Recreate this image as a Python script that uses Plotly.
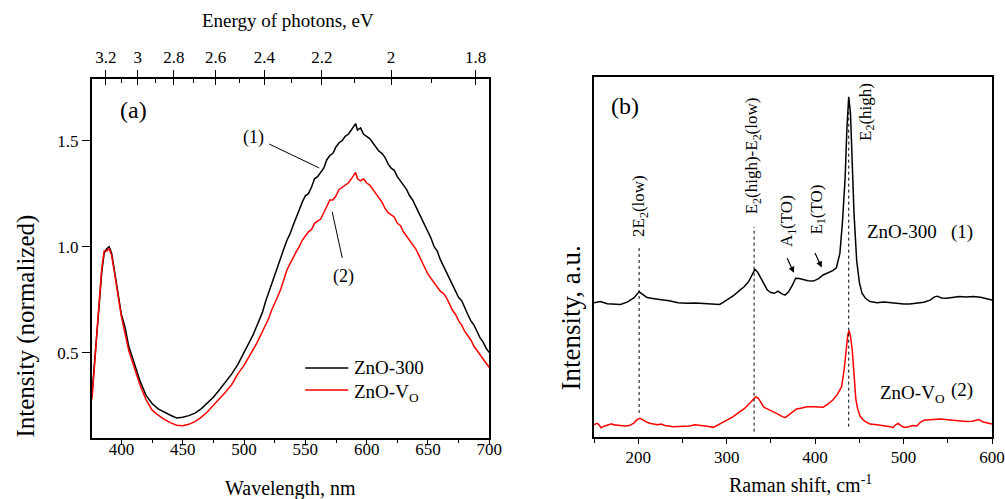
import plotly.graph_objects as go

# ---------------- Panel (a): photoluminescence ----------------
pl_wavelength = [376, 378, 380, 382, 384, 386, 388, 390, 392, 394, 396, 398, 400, 403, 406, 410, 415, 420,
                 425, 430, 435, 440, 445, 450, 455, 460, 465, 470, 475, 480, 485, 490, 495,
                 500, 502.5, 505, 507.5, 510, 512.5, 515, 517.5, 520, 522.5, 525, 527.5, 530, 532.5, 535, 537.5,
                 540, 542.5, 545, 547.5, 550, 552.5, 555, 557.5, 560, 562.5, 565, 567.5, 570, 572.5, 575, 577.5,
                 580, 582.5, 585, 587.5, 590, 591, 592.5, 595, 597.5, 600, 602.5, 605, 607.5, 610, 612.5, 615,
                 617.5, 620, 622.5, 625, 627.5, 630, 632.5, 635, 637.5, 640, 642.5, 645, 647.5, 650, 652.5, 655,
                 657.5, 660, 662.5, 665, 667.5, 670, 672.5, 675, 677.5, 680, 682.5, 685, 687.5, 690, 692.5, 695,
                 697.5, 700]
pl_zno300 = [0.30, 0.45, 0.60, 0.75, 0.88, 0.97, 0.99, 1.00, 0.97, 0.90, 0.82, 0.74, 0.68, 0.62, 0.53, 0.46, 0.37, 0.30,
             0.26, 0.235, 0.218, 0.205, 0.192, 0.195, 0.203, 0.215, 0.235, 0.262, 0.29, 0.325, 0.36, 0.40, 0.445,
             0.50, 0.53, 0.555, 0.585, 0.62, 0.655, 0.69, 0.74, 0.78, 0.83, 0.87, 0.90, 0.95, 0.99, 1.03, 1.06,
             1.10, 1.14, 1.17, 1.21, 1.24, 1.25, 1.28, 1.32, 1.33, 1.35, 1.37, 1.41, 1.43, 1.44, 1.47, 1.49,
             1.50, 1.52, 1.53, 1.55, 1.57, 1.58, 1.55, 1.56, 1.53, 1.52, 1.51, 1.49, 1.47, 1.45, 1.44, 1.42,
             1.39, 1.37, 1.36, 1.33, 1.31, 1.29, 1.27, 1.24, 1.22, 1.19, 1.16, 1.13, 1.10, 1.07, 1.04, 1.00,
             0.98, 0.94, 0.91, 0.88, 0.85, 0.82, 0.79, 0.76, 0.745, 0.71, 0.68, 0.65, 0.63, 0.60, 0.57, 0.55,
             0.52, 0.50]
pl_znovo = [0.28, 0.44, 0.60, 0.76, 0.90, 0.98, 0.98, 0.99, 0.96, 0.89, 0.81, 0.73, 0.67, 0.59, 0.51, 0.44, 0.35, 0.28,
            0.23, 0.205, 0.185, 0.17, 0.158, 0.155, 0.162, 0.175, 0.195, 0.22, 0.25, 0.28, 0.315, 0.35, 0.40,
            0.44, 0.465, 0.49, 0.51, 0.54, 0.57, 0.60, 0.63, 0.66, 0.70, 0.73, 0.765, 0.80, 0.85, 0.89, 0.92,
            0.95, 0.975, 1.00, 1.03, 1.05, 1.07, 1.08, 1.11, 1.12, 1.13, 1.16, 1.19, 1.22, 1.22, 1.24, 1.27,
            1.28, 1.29, 1.30, 1.32, 1.34, 1.35, 1.32, 1.31, 1.32, 1.30, 1.29, 1.27, 1.25, 1.23, 1.21, 1.18,
            1.16, 1.15, 1.14, 1.11, 1.10, 1.07, 1.05, 1.03, 1.01, 0.99, 0.96, 0.93, 0.90, 0.87, 0.85, 0.83,
            0.81, 0.79, 0.78, 0.76, 0.73, 0.70, 0.68, 0.65, 0.63, 0.60, 0.58, 0.56, 0.53, 0.51, 0.49, 0.47,
            0.45, 0.43]

energy_major = [3.2, 3.0, 2.8, 2.6, 2.4, 2.2, 2.0, 1.8]
energy_major_labels = ["3.2", "3", "2.8", "2.6", "2.4", "2.2", "2", "1.8"]
energy_minor = [3.1, 2.9, 2.7, 2.5, 2.3, 2.1, 1.9]
HC = 1239.84  # eV*nm

# ---------------- Panel (b): Raman ----------------
raman_shift_300 = [150, 157, 165, 172, 180, 188, 195, 201, 206, 210, 218, 225, 235, 245, 255, 265, 275, 285, 292,
                   296, 300, 308, 315, 320, 325, 329, 332, 335, 338, 342, 346, 350, 354, 358, 362, 366, 370, 374,
                   378, 382, 387, 392, 398, 404, 409, 415, 420, 424, 428, 431, 434, 436, 438, 440, 442, 444, 447,
                   450, 453, 457, 462, 470, 478, 485, 492, 500, 507, 515, 523, 530, 535, 538, 543, 549, 556, 563,
                   571, 579, 587, 594, 600]
raman_zno300 = [0.373, 0.376, 0.370, 0.369, 0.368, 0.375, 0.386, 0.403, 0.395, 0.387, 0.384, 0.382, 0.378, 0.373,
                0.371, 0.372, 0.370, 0.369, 0.368, 0.374, 0.380, 0.393, 0.408, 0.418, 0.432, 0.452, 0.466, 0.458,
                0.445, 0.425, 0.408, 0.401, 0.399, 0.405, 0.398, 0.394, 0.403, 0.420, 0.441, 0.440, 0.436, 0.434,
                0.433, 0.440, 0.450, 0.457, 0.462, 0.470, 0.510, 0.600, 0.723, 0.860, 0.946, 0.900, 0.760, 0.620,
                0.490, 0.430, 0.399, 0.385, 0.376, 0.373, 0.375, 0.373, 0.372, 0.369, 0.369, 0.372, 0.374, 0.380,
                0.389, 0.391, 0.386, 0.385, 0.388, 0.390, 0.389, 0.390, 0.388, 0.383, 0.380]

raman_shift_vo = [150, 153, 155, 158, 162, 166, 170, 172, 178, 185, 190, 195, 199, 202, 206, 210, 214, 218, 222,
                  226, 230, 240, 250, 258, 264, 270, 278, 285, 290, 295, 300, 307, 315, 320, 326, 330, 333, 336,
                  339, 342, 347, 353, 358, 363, 366, 370, 375, 379, 385, 391, 398, 404, 409, 414, 420, 425, 430,
                  433, 435, 437, 438.5, 440, 442, 444, 446, 448, 451, 456, 462, 470, 478, 485, 488, 491, 494, 497,
                  501, 505, 510, 515, 519, 523, 530, 541, 550, 560, 571, 578, 585, 590, 595, 600]
raman_znovo = [0.033, 0.037, 0.035, 0.025, 0.030, 0.032, 0.036, 0.033, 0.031, 0.030, 0.031, 0.038, 0.048, 0.051,
               0.046, 0.040, 0.037, 0.036, 0.033, 0.035, 0.031, 0.028, 0.028, 0.030, 0.033, 0.032, 0.029, 0.026,
               0.033, 0.040, 0.045, 0.055, 0.070, 0.078, 0.093, 0.105, 0.111, 0.106, 0.092, 0.082, 0.076, 0.070,
               0.063, 0.056, 0.053, 0.060, 0.070, 0.077, 0.080, 0.083, 0.083, 0.082, 0.082, 0.090, 0.102, 0.117,
               0.139, 0.190, 0.241, 0.285, 0.295, 0.280, 0.241, 0.160, 0.105, 0.078, 0.056, 0.043, 0.035, 0.033,
               0.031, 0.028, 0.025, 0.033, 0.037, 0.031, 0.026, 0.027, 0.031, 0.030, 0.040, 0.046, 0.047, 0.049,
               0.047, 0.045, 0.042, 0.043, 0.048, 0.041, 0.038, 0.035]

raman_modes = [201, 331, 438]
raman_mode_top = [0.533, 0.584, 0.94]
raman_mode_bottom = [0.066, 0.014, 0.028]

FONT = "Liberation Serif"
BLACK = "#000000"
RED = "#ff0000"

fig = go.Figure()
fig.add_trace(go.Scatter(x=pl_wavelength, y=pl_zno300, mode="lines", line=dict(color=BLACK, width=1.5),
                         xaxis="x", yaxis="y", showlegend=False, hoverinfo="skip"))
fig.add_trace(go.Scatter(x=pl_wavelength, y=pl_znovo, mode="lines", line=dict(color=RED, width=1.5),
                         xaxis="x", yaxis="y", showlegend=False, hoverinfo="skip"))
# empty traces to activate the top axes of panel (a)
fig.add_trace(go.Scatter(x=[None], y=[None], xaxis="x2", yaxis="y", showlegend=False, hoverinfo="skip"))
fig.add_trace(go.Scatter(x=[None], y=[None], xaxis="x3", yaxis="y", showlegend=False, hoverinfo="skip"))

fig.add_trace(go.Scatter(x=raman_shift_300, y=raman_zno300, mode="lines", line=dict(color=BLACK, width=1.5),
                         xaxis="x4", yaxis="y2", showlegend=False, hoverinfo="skip"))
fig.add_trace(go.Scatter(x=raman_shift_vo, y=raman_znovo, mode="lines", line=dict(color=RED, width=1.5),
                         xaxis="x4", yaxis="y2", showlegend=False, hoverinfo="skip"))

W, H = 1005, 499
xa_dom = [91.7 / W, 489.3 / W]
ya_dom = [1 - 437.7 / H, 1 - 78.5 / H]
xb_dom = [594 / W, 992 / W]
yb_dom = [1 - 436.7 / H, 1 - 77.3 / H]
xa_range = [375.8, 700]
ya_range = [0.099, 1.793]

tickfont = dict(family=FONT, size=17, color=BLACK)
axis_common = dict(showgrid=False, zeroline=False, showline=True, linecolor=BLACK, linewidth=1.5,
                   tickcolor=BLACK, tickwidth=1.2, tickfont=tickfont, automargin=False)

fig.update_layout(
    width=W, height=H, autosize=False, margin=dict(l=0, r=0, t=0, b=0, pad=0),
    paper_bgcolor="white", plot_bgcolor="white",
    font=dict(family=FONT, color=BLACK),
    xaxis=dict(domain=xa_dom, range=xa_range, anchor="y", mirror=True, ticks="outside", ticklen=6,
               tickmode="linear", tick0=400, dtick=50, ticklabelstandoff=-11,
               minor=dict(ticks="outside", ticklen=4, dtick=25, tick0=400, tickcolor=BLACK, tickwidth=1.2),
               **axis_common),
    xaxis2=dict(domain=xa_dom, range=xa_range, anchor="y", overlaying="x", side="top",
                tickmode="array", tickvals=[HC / e for e in energy_major], ticktext=energy_major_labels,
                ticks="outside", ticklen=8,
                minor=dict(ticks="inside", ticklen=4, tickmode="array", tickvals=[HC / e for e in energy_minor],
                           tickcolor=BLACK, tickwidth=1.2),
                **{**axis_common, "showline": False}),
    xaxis3=dict(domain=xa_dom, range=xa_range, anchor="y", overlaying="x", side="top",
                tickmode="array", tickvals=[HC / e for e in energy_major], showticklabels=False,
                ticks="inside", ticklen=6, **{**axis_common, "showline": False}),
    yaxis=dict(domain=ya_dom, range=ya_range, anchor="x", mirror=True, ticks="outside", ticklen=8,
               tickmode="array", tickvals=[0.5, 1.0, 1.5], ticktext=["0.5", "1.0", "1.5"], **axis_common),
    xaxis4=dict(domain=xb_dom, range=[150, 600], anchor="y2", mirror=True, ticks="outside", ticklen=6,
                tickmode="linear", tick0=200, dtick=100, ticklabelstandoff=-2,
                minor=dict(ticks="outside", ticklen=5, dtick=50, tick0=150, tickcolor=BLACK, tickwidth=1.2),
                **axis_common),
    yaxis2=dict(domain=yb_dom, range=[0, 1], anchor="x4", mirror=True, ticks="", showticklabels=False,
                **axis_common),
)

# dotted lines marking Raman modes
for xm, yt, yb in zip(raman_modes, raman_mode_top, raman_mode_bottom):
    fig.add_shape(type="line", xref="x4", yref="y2", x0=xm, x1=xm, y0=yb, y1=yt,
                  line=dict(color=BLACK, width=1, dash="dot"))

# leader lines panel (a)
fig.add_shape(type="line", xref="x", yref="y", x0=520.5, y0=1.484, x1=561.3, y1=1.371,
              line=dict(color=BLACK, width=1))
fig.add_shape(type="line", xref="x", yref="y", x0=571.9, y0=1.164, x1=580.1, y1=0.947,
              line=dict(color=BLACK, width=1))
# legend lines panel (a)
fig.add_shape(type="line", xref="x", yref="y", x0=549.9, x1=585.0, y0=0.428, y1=0.428,
              line=dict(color=BLACK, width=1.5))
fig.add_shape(type="line", xref="x", yref="y", x0=549.9, x1=585.0, y0=0.324, y1=0.324,
              line=dict(color=RED, width=1.5))


def ann(text, x, y, xref, yref, size=19, xanchor="center", yanchor="middle", angle=0):
    fig.add_annotation(text=text, x=x, y=y, xref=xref, yref=yref, showarrow=False,
                       xanchor=xanchor, yanchor=yanchor, textangle=angle,
                       font=dict(family=FONT, size=size, color=BLACK))


# panel (a) texts
ann("(a)", 409.5, 1.645, "x", "y", size=24)
ann("(1)", 507.4, 1.517, "x", "y", size=18)
ann("(2)", 580.9, 0.857, "x", "y", size=18)
ann("ZnO-300", 588.2, 0.428, "x", "y", size=19, xanchor="left")
ann("ZnO-V<sub>O</sub>", 588.2, 0.310, "x", "y", size=19, xanchor="left")
ann("Energy of photons, eV", 536.2, 1 - 20 / H, "x", "paper", size=19)
ann("Wavelength, nm", 537.8, 1 - 488 / H, "x", "paper", size=20)
ann("Intensity (normalized)", 25 / W, 1 - 440 / H, "paper", "paper", size=25, yanchor="bottom", angle=-90)

# panel (b) texts
ann("(b)", 185.1, 0.920, "x4", "y2", size=24)
ann("2E<sub>2</sub>(low)", 202, 0.642, "x4", "y2", size=17, angle=-90)
ann("E<sub>2</sub>(high)-E<sub>2</sub>(low)", 330.1, 0.781, "x4", "y2", size=17, angle=-90)
ann("A<sub>1</sub>(TO)", 369.4, 0.600, "x4", "y2", size=17, angle=-90)
ann("E<sub>1</sub>(TO)", 402.9, 0.631, "x4", "y2", size=17, angle=-90)
ann("E<sub>2</sub>(high)", 458.4, 0.903, "x4", "y2", size=17, angle=-90)
ann("ZnO-300", 456.4, 0.570, "x4", "y2", size=19, xanchor="left")
ann("(1)", 580.8, 0.570, "x4", "y2", size=19, xanchor="right")
ann("ZnO-V<sub>O</sub>", 471.1, 0.118, "x4", "y2", size=19, xanchor="left")
ann("(2)", 580.8, 0.130, "x4", "y2", size=19, xanchor="right")
ann("Intensity, a.u.", 570 / W, 1 - 393 / H, "paper", "paper", size=27, yanchor="bottom", angle=-90)
ann("Raman shift, cm<sup>-1</sup>", 800 / W, 1 / H, "paper", "paper", size=20, yanchor="bottom")

# arrows pointing at A1(TO) and E1(TO)
for xt, yt in [(376.1, 0.456), (407.5, 0.471)]:
    fig.add_annotation(x=xt, y=yt, xref="x4", yref="y2", text="", showarrow=True,
                       ax=-7.5, ay=-16, arrowhead=2, arrowsize=1, arrowwidth=1.2, arrowcolor=BLACK)

fig.write_html("out.html", config={"responsive": False})
